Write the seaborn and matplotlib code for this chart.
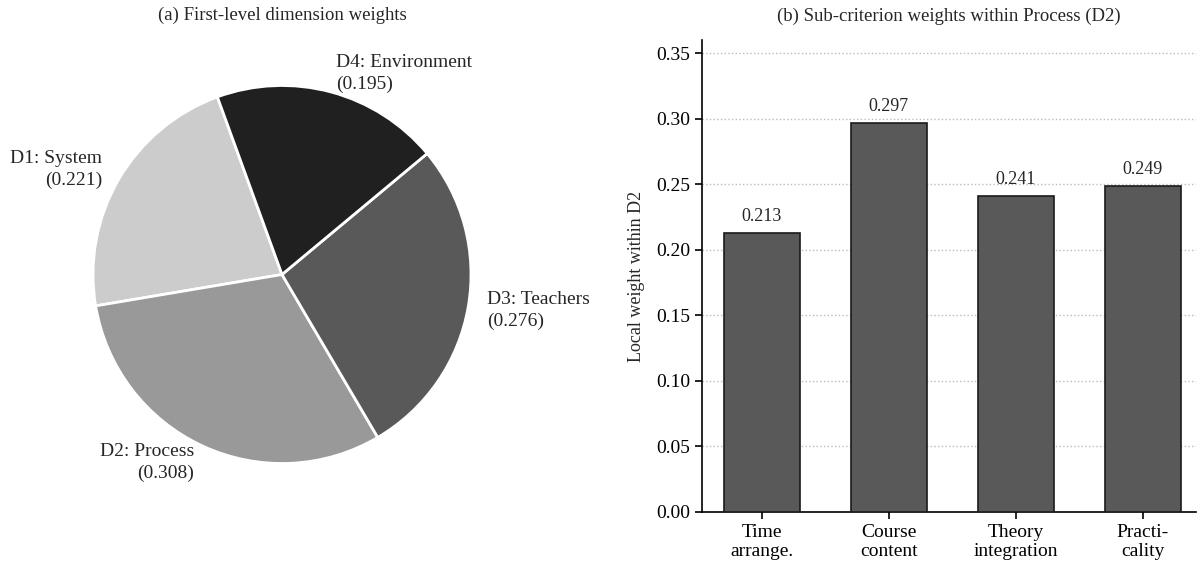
import matplotlib
matplotlib.use("Agg")
import matplotlib.pyplot as plt
import seaborn as sns
import pandas as pd

# data
dim_names = ["D1: System", "D2: Process", "D3: Teachers", "D4: Environment"]
dim_weights = [0.221, 0.308, 0.276, 0.195]
dim_colors = ["#cccccc", "#999999", "#595959", "#202020"]

sub_names = ["Time\narrange.", "Course\ncontent", "Theory\nintegration", "Practi-\ncality"]
sub_weights = [0.213, 0.297, 0.241, 0.249]

sns.set_style("ticks")
plt.rcParams["font.family"] = ["Liberation Serif", "DejaVu Serif"]

W, H = 1198, 567
fig = plt.figure(figsize=(W / 100, H / 100), dpi=100)

# (a) pie
cx, cy, r = 282, 274.5, 189
side = 2 * r * 1.25
ax1 = fig.add_axes([(cx - side / 2) / W, (H - cy - side / 2) / H, side / W, side / H])
labels = [f"{n}\n({w:.3f})" for n, w in zip(dim_names, dim_weights)]
ax1.pie(dim_weights, labels=labels, colors=dim_colors, startangle=110,
        counterclock=True, labeldistance=1.1,
        wedgeprops=dict(edgecolor="white", linewidth=2),
        textprops=dict(fontsize=14, linespacing=1.35))
ax1.set_xlim(-1.25, 1.25)
ax1.set_ylim(-1.25, 1.25)
fig.text(cx / W, 1 - 15 / H, "(a) First-level dimension weights",
         ha="center", va="center", fontsize=13.5)

# (b) bars
left, right, top, bottom = 702, 1196, 40, 512
ax2 = fig.add_axes([left / W, (H - bottom) / H, (right - left) / W, (bottom - top) / H])
df = pd.DataFrame({"name": sub_names, "weight": sub_weights})
sns.barplot(data=df, x="name", y="weight", color="#595959", saturation=1,
            edgecolor="#1a1a1a", linewidth=1.2, width=0.6, ax=ax2, zorder=3)
for i, v in enumerate(sub_weights):
    ax2.text(i, v + 0.006, f"{v:.3f}", ha="center", va="bottom", fontsize=13)
ax2.set_ylim(0, 0.36)
ax2.set_xlim(-0.47, 3.42)
ax2.set_yticks([0, 0.05, 0.10, 0.15, 0.20, 0.25, 0.30, 0.35])
ax2.set_yticklabels([f"{t:.2f}" for t in ax2.get_yticks()])
ax2.tick_params(axis="both", labelsize=14, length=5, width=1.2, colors="black")
ax2.yaxis.grid(True, linestyle=":", color="#bbbbbb", linewidth=1, zorder=0)
ax2.set_axisbelow(True)
ax2.set_xlabel("")
ax2.set_ylabel("Local weight within D2", fontsize=13, labelpad=8)
for s in ["top", "right"]:
    ax2.spines[s].set_visible(False)
for s in ["left", "bottom"]:
    ax2.spines[s].set_linewidth(1.2)
    ax2.spines[s].set_color("black")
ax2.set_title("(b) Sub-criterion weights within Process (D2)", fontsize=13.5, pad=14)

fig.savefig("out.png", dpi=100)
